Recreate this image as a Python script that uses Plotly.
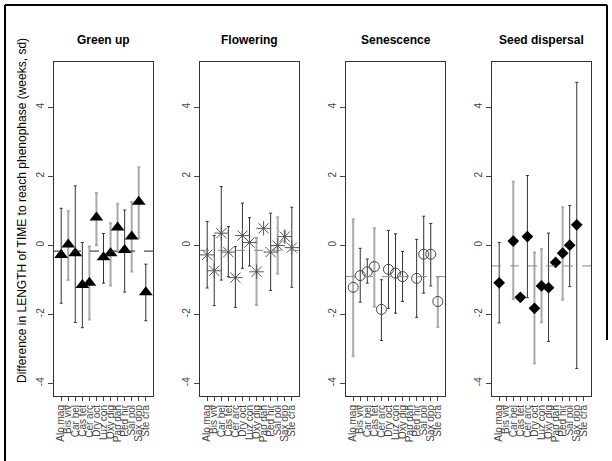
import plotly.graph_objects as go

species = ["Alo mag", "Bis viv", "Car bel", "Cas tet", "Cer arc", "Dry oct", "Luz con",
           "Oxy dig", "Pap dah", "Ped hir", "Sal pol", "Sax opp", "Ste cra"]

panel_titles = ["Green up", "Flowering", "Senescence", "Seed dispersal"]

# Green up
green_mean = [-0.28, 0.02, -0.23, -1.15, -1.09, 0.80, -0.35, -0.23, 0.51, -0.14, 0.25, 1.26, -1.36]
green_hi   = [1.07, 0.99, 1.72, 0.08, -0.04, 1.51, 0.34, 0.64, 1.20, 1.02, 1.25, 2.26, -0.55]
green_lo   = [-1.68, -1.01, -2.24, -2.39, -2.15, 0.00, -1.10, -1.17, -0.18, -1.36, -0.76, 0.20, -2.19]
green_grey = [0, 1, 0, 0, 1, 1, 0, 1, 1, 0, 1, 1, 0]
green_ref = -0.17

# Flowering
flower_mean = [-0.28, -0.74, 0.35, -0.20, -0.94, 0.28, 0.08, -0.77, 0.49, -0.20, -0.01, 0.25, -0.07]
flower_hi   = [0.69, 0.28, 1.70, 0.54, -0.04, 1.22, 0.80, 0.22, None, 0.93, 0.81, 0.40, 1.10]
flower_lo   = [-1.24, -1.75, -1.01, -0.91, -1.80, -0.67, -0.60, -1.73, None, -1.31, -0.83, 0.10, -1.22]
flower_grey = [0, 0, 0, 0, 0, 0, 0, 1, 0, 0, 1, 1, 0]
flower_ref = -0.15

# Senescence
senes_mean = [-1.22, -0.88, -0.77, -0.62, -1.86, -0.70, -0.81, -0.91, None, -0.96, -0.26, -0.26, -1.63]
senes_hi   = [0.75, -0.09, -0.40, 0.49, -1.00, 0.43, 0.33, -0.18, None, 0.17, 0.84, 0.63, -0.93]
senes_lo   = [-3.22, -1.65, -1.10, -1.78, -2.76, -1.83, -1.97, -1.63, None, -2.09, -1.39, -1.18, -2.37]
senes_grey = [1, 0, 0, 1, 0, 0, 0, 0, 0, 0, 0, 0, 1]
senes_ref = -0.91

# Seed dispersal
seed_mean = [-1.09, None, 0.12, -1.51, 0.25, -1.83, -1.18, -1.23, -0.50, -0.23, 0.00, 0.59, None]
seed_hi   = [0.08, None, 1.84, None, 2.02, -0.21, -0.11, 0.35, None, 1.10, 1.15, 4.72, None]
seed_lo   = [-2.25, None, -1.56, None, -1.52, -3.42, -2.23, -2.79, None, -1.58, -1.20, -3.57, None]
seed_grey = [0, 0, 1, 0, 0, 1, 1, 0, 0, 1, 0, 0, 0]
seed_ref = -0.60

y_ticks = [-4, -2, 0, 2, 4]

panels = [
    (green_mean, green_hi, green_lo, green_grey, green_ref),
    (flower_mean, flower_hi, flower_lo, flower_grey, flower_ref),
    (senes_mean, senes_hi, senes_lo, senes_grey, senes_ref),
    (seed_mean, seed_hi, seed_lo, seed_grey, seed_ref),
]

markers = [
    dict(symbol="triangle-up", size=12, color="black"),
    dict(symbol="asterisk-open", size=12, color="#555", line=dict(width=1, color="#555")),
    dict(symbol="circle-open", size=10, color="#444", line=dict(width=1, color="#444")),
    dict(symbol="diamond", size=9, color="black"),
]

W, H = 612, 461
px_left = [54, 200, 346, 492]
pw = 99
top_px, bot_px = 62, 396

fig = go.Figure()
xpos = list(range(1, len(species) + 1))

for i, (mean, hi, lo, grey, ref) in enumerate(panels):
    ax = "" if i == 0 else str(i + 1)
    xr, yr = "x" + ax, "y" + ax
    for flag, col, lw in [(0, "#333333", 1), (1, "#aaaaaa", 2)]:
        xs, ys, ep, em = [], [], [], []
        for k in range(len(species)):
            if mean[k] is None or hi[k] is None or grey[k] != flag:
                continue
            xs.append(xpos[k])
            ys.append(mean[k])
            ep.append(hi[k] - mean[k])
            em.append(mean[k] - lo[k])
        fig.add_trace(go.Scatter(
            x=xs, y=ys, mode="markers", marker=dict(size=0.1, color="rgba(0,0,0,0)"),
            error_y=dict(type="data", symmetric=False, array=ep, arrayminus=em,
                         color=col, thickness=lw, width=1.5),
            xaxis=xr, yaxis=yr, showlegend=False, hoverinfo="skip"))
    fig.add_shape(type="line", xref=xr + " domain", yref=yr, x0=0, x1=1, y0=ref, y1=ref,
                  line=dict(color="#222" if i == 0 else "#888", width=1, dash="dash"))
    fig.add_trace(go.Scatter(
        x=xpos, y=mean, mode="markers", marker=markers[i],
        xaxis=xr, yaxis=yr, showlegend=False))

    x0 = px_left[i] / W
    x1 = (px_left[i] + pw) / W
    fig.layout["xaxis" + ax] = dict(
        domain=[x0, x1], range=[-0.02, 14.02], tickmode="array", tickvals=xpos,
        ticktext=species, tickangle=-90, ticks="outside", ticklen=4, tickcolor="#444",
        showline=True, mirror=True, linecolor="#333", linewidth=1, showgrid=False,
        zeroline=False, automargin=False,
        tickfont=dict(family="Liberation Sans, Arial", size=10, color="#444"),
        anchor=yr, fixedrange=True)
    fig.layout["yaxis" + ax] = dict(
        domain=[1 - bot_px / H, 1 - top_px / H], range=[-4.37, 5.31], tickmode="array",
        tickvals=y_ticks, ticktext=[str(v) for v in y_ticks], tickangle=-90,
        ticks="outside", ticklen=5, tickcolor="#444", showline=True, mirror=True,
        linecolor="#333", linewidth=1, showgrid=False, zeroline=False, automargin=False,
        tickfont=dict(family="Liberation Sans, Arial", size=10, color="#444"),
        anchor=xr, fixedrange=True)
    fig.add_annotation(x=(px_left[i] + pw / 2) / W, y=1 - 40 / H, xref="paper", yref="paper",
                       xanchor="center", yanchor="middle",
                       text="<b>" + panel_titles[i] + "</b>", showarrow=False,
                       font=dict(family="Liberation Sans, Arial", size=12, color="black"))

fig.add_annotation(x=22 / W, y=1 - 211 / H, xref="paper", yref="paper",
                   xanchor="center", yanchor="middle",
                   text="Difference in LENGTH of TIME to reach phenophase (weeks, sd)",
                   textangle=-90, showarrow=False,
                   font=dict(family="Liberation Sans, Arial", size=12, color="black"))

# page frame
fig.add_shape(type="line", xref="paper", yref="paper", x0=5 / W, x1=607 / W, y0=1 - 5 / H, y1=1 - 5 / H,
              line=dict(color="black", width=2))
fig.add_shape(type="line", xref="paper", yref="paper", x0=5 / W, x1=5 / W, y0=1 - 5 / H, y1=0,
              line=dict(color="black", width=2))
fig.add_shape(type="line", xref="paper", yref="paper", x0=607 / W, x1=607 / W, y0=1 - 5 / H, y1=1 - 340 / H,
              line=dict(color="black", width=2))

fig.update_layout(width=W, height=H, margin=dict(l=0, r=0, t=0, b=0),
                  paper_bgcolor="white", plot_bgcolor="white", showlegend=False)

fig.write_html("out.html", config={"displayModeBar": False},
               post_script="document.body.style.margin='0';document.body.style.overflow='hidden';")
